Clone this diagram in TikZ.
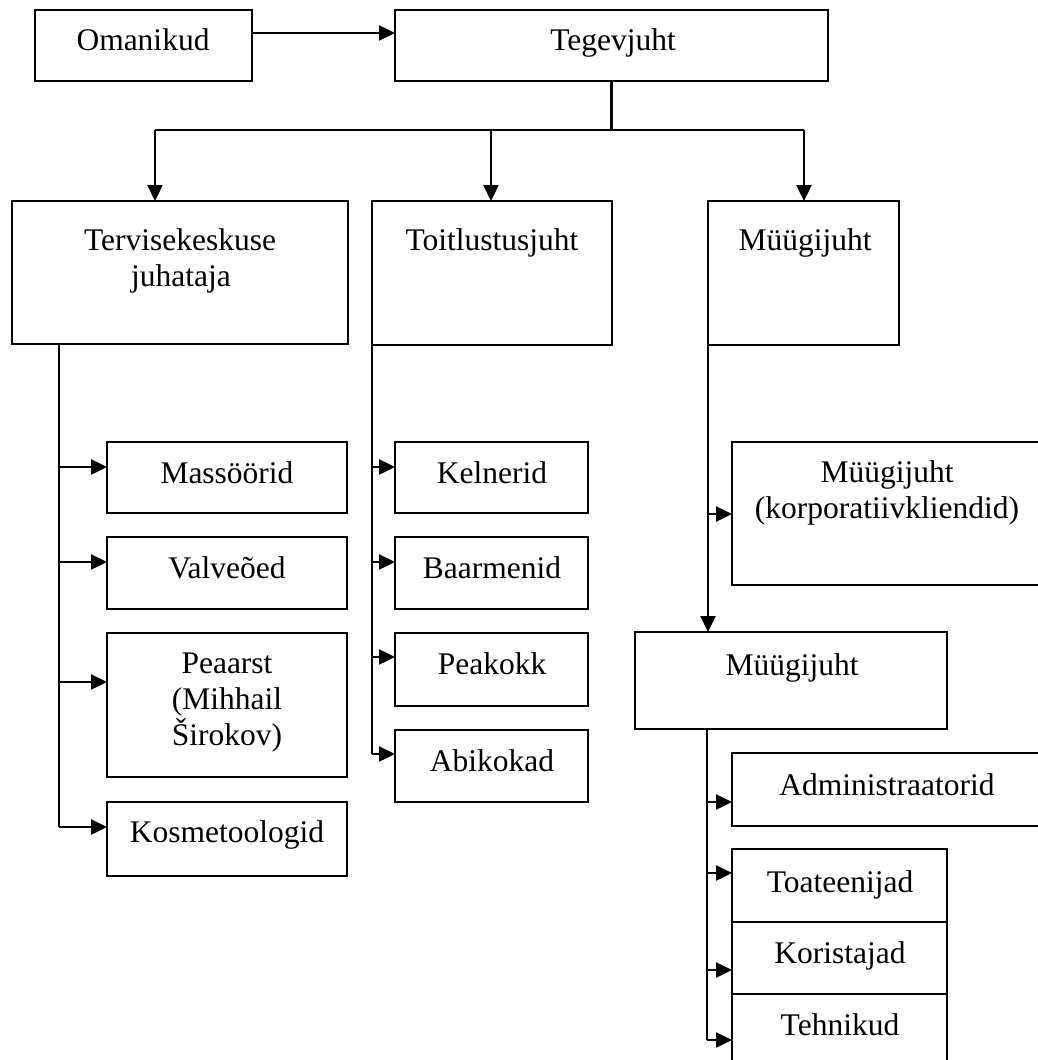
\documentclass[tikz,border=0pt]{standalone}
\usepackage{fontspec}
\setmainfont{Liberation Serif}
\usetikzlibrary{arrows.meta}
\tikzset{
  box/.style={draw=black, line width=2pt, inner sep=0pt, outer sep=0pt, anchor=north west, rectangle},
  txt/.style={font=\fontsize{31.5pt}{36pt}\selectfont, anchor=base, inner sep=0pt},
  conn/.style={line width=2.4pt, draw=black},
  arr/.style={conn, -{Triangle[length=16pt,width=15pt]}},
}
\begin{document}
\begin{tikzpicture}[x=1pt,y=-1pt]
\useasboundingbox (0,0) rectangle (1038,1060);
\clip (0,0) rectangle (1038,1060);
\fill[white] (0,0) rectangle (1038,1060);
% boxes
\node[box, minimum width=217pt, minimum height=71pt] (om) at (35,10) {};
\node[box, minimum width=433pt, minimum height=71pt] (teg) at (395,10) {};
\node[box, minimum width=336pt, minimum height=143pt] (terv) at (12,201) {};
\node[box, minimum width=240pt, minimum height=144pt] (toit) at (372,201) {};
\node[box, minimum width=191pt, minimum height=144pt] (myyk) at (708,201) {};
\node[box, minimum width=240pt, minimum height=71pt] (mass) at (107,442) {};
\node[box, minimum width=240pt, minimum height=72pt] (valv) at (107,537) {};
\node[box, minimum width=240pt, minimum height=144pt] (peaa) at (107,633) {};
\node[box, minimum width=240pt, minimum height=74pt] (kosm) at (107,802) {};
\node[box, minimum width=193pt, minimum height=71pt] (keln) at (395,442) {};
\node[box, minimum width=193pt, minimum height=72pt] (baar) at (395,537) {};
\node[box, minimum width=193pt, minimum height=73pt] (peak) at (395,633) {};
\node[box, minimum width=193pt, minimum height=72pt] (abik) at (395,730) {};
\node[box, minimum width=314pt, minimum height=143pt] (korp) at (732,442) {};
\node[box, minimum width=312pt, minimum height=97pt] (myy2) at (635,632) {};
\node[box, minimum width=314pt, minimum height=73pt] (admi) at (732,753) {};
\node[box, minimum width=215pt, minimum height=73pt] (toat) at (732,849) {};
\node[box, minimum width=215pt, minimum height=72pt] (kori) at (732,922) {};
\node[box, minimum width=215pt, minimum height=74pt] (tehn) at (732,994) {};
% texts
\node[txt] (om-t) at (143,50) {Omanikud};
\node[txt] (teg-t) at (613,50) {Tegevjuht};
\node[txt] (terv-t1) at (180,250) {Tervisekeskuse};
\node[txt] (terv-t2) at (181,286) {juhataja};
\node[txt] (toit-t) at (492,250) {Toitlustusjuht};
\node[txt] (myyk-t) at (805,250) {Müügijuht};
\node[txt] (mass-t) at (227,483) {Massöörid};
\node[txt] (valv-t) at (227,578) {Valveõed};
\node[txt] (peaa-t1) at (227,673) {Peaarst};
\node[txt] (peaa-t2) at (227,709) {(Mihhail};
\node[txt] (peaa-t3) at (227,745) {Širokov)};
\node[txt] (kosm-t) at (227,842) {Kosmetoologid};
\node[txt] (keln-t) at (492,483) {Kelnerid};
\node[txt] (baar-t) at (492,578) {Baarmenid};
\node[txt] (peak-t) at (492,674) {Peakokk};
\node[txt] (abik-t) at (492,771) {Abikokad};
\node[txt] (korp-t1) at (887,482) {Müügijuht};
\node[txt] (korp-t2) at (887,518) {(korporatiivkliendid)};
\node[txt] (myy2-t) at (792,675) {Müügijuht};
\node[txt] (admi-t) at (887,795) {Administraatorid};
\node[txt] (toat-t) at (840,892) {Toateenijad};
\node[txt] (kori-t) at (840,963) {Koristajad};
\node[txt] (tehn-t) at (840,1035) {Tehnikud};
% top connectors
\coordinate (ya) at (0,33);
\draw[arr] (om.east |- ya) -- (teg.west |- ya);
\coordinate (b1) at (155,130);
\coordinate (b2) at (491,130);
\coordinate (b3) at (804,130);
\draw[conn] (teg.south) -- (teg.south |- b1);
\draw[conn] (b1) -- (b3);
\draw[arr] (b1) -- (b1 |- terv.north);
\draw[arr] (b2) -- (b2 |- toit.north);
\draw[arr] (b3) -- (b3 |- myyk.north);
% left trunk
\coordinate (l1) at (59,467);
\coordinate (l2) at (59,562);
\coordinate (l3) at (59,682);
\coordinate (l4) at (59,827);
\draw[conn] (l1 |- terv.south) -- (l4);
\draw[arr] (l1) -- (l1 -| mass.west);
\draw[arr] (l2) -- (l2 -| valv.west);
\draw[arr] (l3) -- (l3 -| peaa.west);
\draw[arr] (l4) -- (l4 -| kosm.west);
% middle trunk
\coordinate (m1) at (372,467);
\coordinate (m2) at (372,562);
\coordinate (m3) at (372,657);
\coordinate (m4) at (372,754);
\draw[conn] (toit.south west) -- (m4);
\draw[arr] (m1) -- (m1 -| keln.west);
\draw[arr] (m2) -- (m2 -| baar.west);
\draw[arr] (m3) -- (m3 -| peak.west);
\draw[arr] (m4) -- (m4 -| abik.west);
% right trunk
\coordinate (r1) at (708,514);
\draw[arr] (myyk.south west) -- (myyk.south west |- myy2.north);
\draw[arr] (r1) -- (r1 -| korp.west);
\coordinate (s1) at (707,802);
\coordinate (s2) at (707,873);
\coordinate (s3) at (707,970);
\coordinate (s4) at (707,1040);
\draw[conn] (s1 |- myy2.south) -- (s4);
\draw[arr] (s1) -- (s1 -| admi.west);
\draw[arr] (s2) -- (s2 -| toat.west);
\draw[arr] (s3) -- (s3 -| kori.west);
\draw[arr] (s4) -- (s4 -| tehn.west);
\end{tikzpicture}
\end{document}
